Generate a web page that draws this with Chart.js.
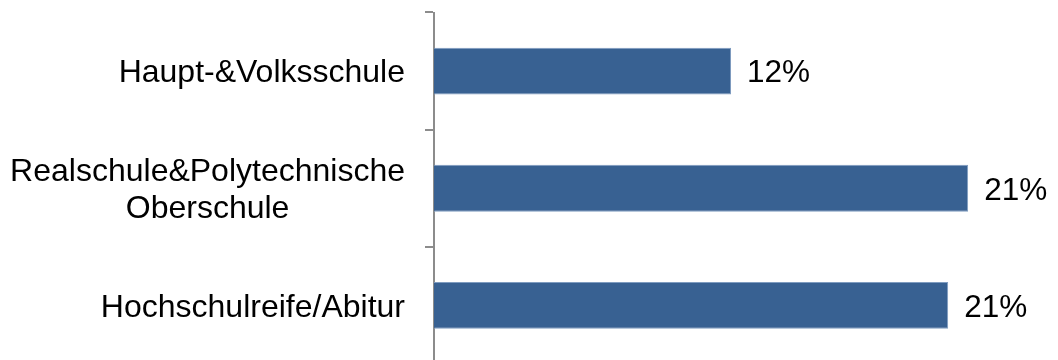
<!DOCTYPE html>
<html>
<head>
<meta charset="utf-8">
<script src="https://cdn.jsdelivr.net/npm/chart.js@4/dist/chart.umd.min.js"></script>
<style>
  html, body { margin: 0; padding: 0; background: #ffffff; overflow: hidden; }
  #wrap { width: 1058px; height: 360px; overflow: hidden; }
  canvas { display: block; }
</style>
</head>
<body>
<div id="wrap"><canvas id="c" width="1058" height="364"></canvas></div>
<script>
const categories = [
  'Haupt-&Volksschule',
  ['Realschule&Polytechnische', 'Oberschule'],
  'Hochschulreife/Abitur'
];
const shares = [11.9, 21.4, 20.6];
const axisMax = 25;

const FONT = '32px "Liberation Sans", Arial, sans-serif';
const VALUE_FONT = '31.5px "Liberation Sans", Arial, sans-serif';
const CAP_HALF = 11.4;
const LINE_H = 37.4;

const labelPlugin = {
  id: 'customLabels',
  afterDraw(chart) {
    const ctx = chart.ctx;
    const yScale = chart.scales.y;
    ctx.save();
    ctx.font = FONT;
    ctx.fillStyle = '#000000';
    ctx.textBaseline = 'alphabetic';
    const rightX = yScale.right - 29;
    categories.forEach((lab, i) => {
      const lines = Array.isArray(lab) ? lab : [lab];
      const widths = lines.map(l => ctx.measureText(l).width);
      const block = Math.max(...widths);
      const cy = yScale.getPixelForValue(i);
      const startY = cy - (lines.length - 1) * LINE_H / 2;
      ctx.textAlign = 'center';
      lines.forEach((l, j) => {
        ctx.fillText(l, rightX - block / 2, startY + j * LINE_H + CAP_HALF);
      });
    });
    const meta = chart.getDatasetMeta(0);
    ctx.font = VALUE_FONT;
    ctx.textAlign = 'left';
    meta.data.forEach((bar, i) => {
      const txt = Math.round(shares[i]) + '%';
      ctx.fillText(txt, bar.x + 16, bar.y + CAP_HALF);
    });
    ctx.restore();
  }
};

new Chart(document.getElementById('c'), {
  type: 'bar',
  data: {
    labels: categories,
    datasets: [{
      data: shares,
      backgroundColor: '#386192',
      borderColor: '#7F9CC0',
      borderWidth: 1,
      barPercentage: 0.4,
      categoryPercentage: 1.0
    }]
  },
  options: {
    indexAxis: 'y',
    responsive: false,
    animation: false,
    devicePixelRatio: 1,
    layout: { padding: { top: 12.5, bottom: 0, left: 0, right: 0 } },
    plugins: { legend: { display: false }, tooltip: { enabled: false } },
    scales: {
      x: {
        display: false,
        min: 0,
        max: axisMax
      },
      y: {
        afterFit(scale) { scale.width = 434; },
        border: { display: true, color: '#8C8C8C', width: 2 },
        grid: {
          offset: true,
          drawOnChartArea: false,
          drawTicks: true,
          tickLength: 9,
          tickColor: '#8C8C8C',
          lineWidth: 2
        },
        ticks: { display: false }
      }
    }
  },
  plugins: [labelPlugin]
});
</script>
</body>
</html>
